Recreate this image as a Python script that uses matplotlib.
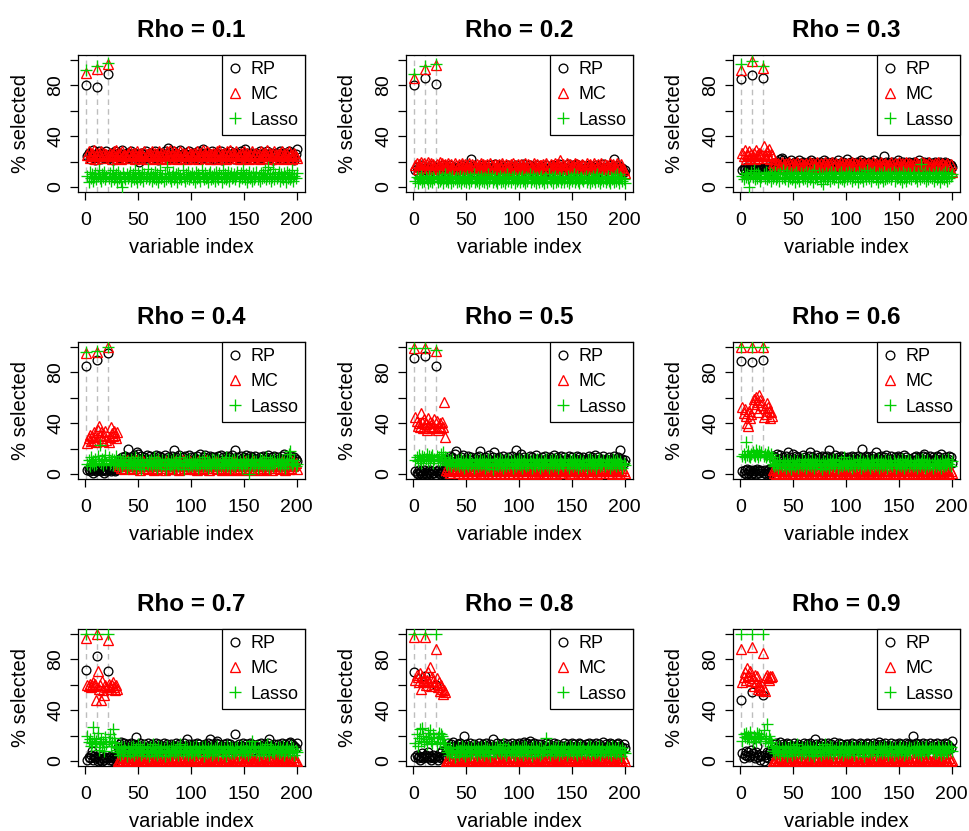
import numpy as np
import matplotlib
matplotlib.use("Agg")
import matplotlib.pyplot as plt


def vals(s):
    return np.array(s.split(), dtype=float)


rho_values = [0.1, 0.2, 0.3, 0.4, 0.5, 0.6, 0.7, 0.8, 0.9]
true_vars = [1, 11, 21]

# % selected per variable (1..200), one block of three series per rho
rp_01 = vals("""
80 24 27 22 26 25 29 23 21 26 79 25 28 24 22 27 26 23 25 28
89 23 26 24 27 21 25 28 22 26 24 27 23 25 29 22 26 24 27 25
23 26 28 22 25 27 24 21 26 23 20 25 27 24 22 26 28 23 25 24
27 22 26 24 25 28 23 26 21 27 24 25 22 26 28 24 27 31 25 23
26 24 28 22 25 27 23 26 24 29 22 25 27 24 26 23 25 28 22 26
24 27 25 23 26 22 28 25 24 27 30 23 26 25 22 27 24 26 23 28
25 22 26 24 27 23 25 28 21 26 24 27 25 22 26 23 28 24 25 27
22 26 24 27 25 23 28 24 26 22 30 25 27 23 26 24 22 27 25 26
24 27 22 25 28 23 26 24 27 22 25 28 24 26 23 27 25 21 26 24
27 23 25 28 22 26 24 27 25 23 26 22 28 24 25 27 23 21 26 30
""")
mc_01 = vals("""
90 25 28 23 27 24 26 29 22 25 93 27 24 26 28 23 25 27 24 26
97 24 27 25 22 26 28 24 29 23 26 25 27 22 28 24 26 25 23 27
25 28 23 26 24 27 22 25 28 24 26 23 27 25 24 28 22 26 25 27
24 26 28 23 25 27 22 26 24 28 25 23 27 24 26 22 28 25 24 29
23 26 25 28 24 27 22 26 25 28 23 27 24 26 25 22 28 24 26 27
25 23 27 24 26 28 22 25 27 24 29 26 23 25 28 24 27 22 26 25
27 24 26 22 28 25 29 23 26 24 27 25 22 28 24 26 29 23 25 27
24 26 28 23 25 22 27 24 26 28 25 23 27 24 22 26 25 28 23 26
25 27 24 26 22 28 25 23 27 24 26 29 23 25 27 24 22 26 28 25
23 26 24 27 25 28 22 26 24 27 25 23 28 24 26 22 25 27 24 23
""")
lasso_01 = vals("""
92 9 4 12 7 10 5 8 11 6 95 9 13 7 5 10 8 12 6 9
98 7 11 5 9 13 6 8 10 4 12 7 9 5 0 11 8 6 10 7
9 12 5 8 10 6 13 7 4 11 9 6 8 12 5 10 7 9 14 6
8 11 5 9 7 12 6 10 4 8 13 7 9 5 11 6 16 8 10 7
5 9 12 6 8 10 4 11 7 9 6 13 8 5 10 7 12 6 9 8
11 6 9 4 12 7 10 8 5 13 9 6 11 7 8 4 10 12 6 9
7 10 5 12 8 6 11 9 4 13 7 10 6 8 12 5 9 11 7 8
10 6 9 12 5 8 11 7 13 9 6 10 4 8 12 7 9 5 11 6
8 12 6 9 5 11 7 10 8 13 6 9 16 7 11 5 8 14 6 10
7 9 12 5 10 8 6 11 9 4 12 7 10 6 8 13 5 9 7 11
""")

rp_02 = vals("""
80 13 16 12 15 14 17 13 12 15 86 14 16 13 12 15 14 17 13 15
81 14 13 16 12 15 14 17 13 15 16 12 14 13 17 15 12 16 14 13
15 13 16 14 12 17 15 13 16 14 12 15 17 13 22 14 16 12 15 13
16 14 12 15 17 13 16 14 12 15 13 17 14 16 12 15 18 13 14 16
13 15 17 12 14 16 13 15 12 17 14 13 16 15 12 14 17 13 15 14
16 12 15 18 13 14 16 12 15 17 13 14 16 12 15 13 17 14 16 12
15 13 16 14 12 17 13 15 16 12 14 17 13 15 16 12 14 18 13 15
14 16 12 15 13 18 14 16 12 15 17 13 14 18 12 16 15 13 14 17
12 15 14 16 13 17 12 15 14 16 13 15 17 12 14 16 13 15 12 18
14 16 13 15 12 17 14 13 16 22 15 12 14 17 13 16 14 15 12 13
""")
mc_02 = vals("""
86 17 19 14 18 16 20 15 17 19 93 16 18 20 15 17 19 14 18 16
96 18 15 17 20 16 19 14 17 18 15 16 19 17 14 18 16 15 19 17
14 16 18 15 17 19 14 16 18 15 17 14 19 16 15 18 17 14 16 18
15 17 14 19 16 18 15 17 13 18 16 15 19 17 14 16 18 15 17 14
18 16 15 19 17 14 16 18 15 17 13 18 16 19 15 17 14 16 18 15
16 18 14 17 15 19 16 14 18 17 15 16 14 19 17 15 18 16 14 17
17 15 18 16 14 19 17 15 16 18 14 17 15 19 16 18 14 17 21 16
15 18 16 14 19 17 15 18 16 14 17 15 19 16 18 14 17 15 16 18
17 14 16 19 15 17 18 14 16 15 19 17 14 16 18 15 17 19 14 16
18 15 17 14 16 19 15 17 18 14 16 15 19 17 14 16 18 15 13 11
""")
lasso_02 = vals("""
89 5 8 3 7 6 9 4 7 5 95 8 6 3 9 5 7 4 8 6
97 7 4 9 5 6 8 3 7 10 5 6 4 8 7 3 9 5 6 8
4 7 5 9 3 6 8 5 7 4 9 6 3 8 5 7 10 4 6 5
8 3 6 9 5 7 4 8 6 3 10 5 7 9 4 6 8 5 3 7
6 9 4 7 5 8 3 6 10 5 7 4 8 6 9 3 7 5 6 8
4 7 9 5 6 3 8 5 7 10 4 6 9 5 7 3 8 6 4 7
9 5 6 3 8 7 4 10 6 5 8 3 7 9 4 6 5 8 7 4
6 8 4 7 5 9 3 6 8 5 7 10 4 6 9 5 3 7 8 6
5 7 9 4 6 8 3 7 5 9 6 4 8 10 5 7 3 6 8 5
7 4 6 9 5 3 8 6 7 4 9 5 10 6 3 8 7 5 6 3
""")

rp_03 = vals("""
85 13 15 14 12 16 14 13 15 14 88 13 16 14 15 12 14 13 15 14
86 15 13 14 16 12 14 15 13 14 17 19 16 18 17 20 19 22 23 21
18 17 20 16 19 18 17 21 16 19 18 20 17 16 19 21 18 17 20 16
19 18 16 20 17 19 21 18 16 20 17 19 18 16 20 17 19 18 21 16
18 20 17 16 19 18 20 17 19 16 18 21 17 19 16 18 20 17 19 18
22 17 19 16 20 18 17 19 16 20 18 17 19 21 16 18 20 17 19 16
18 20 17 19 16 18 21 17 19 16 20 18 17 19 16 24 18 20 17 19
17 19 16 20 18 17 19 16 21 18 17 19 16 20 18 17 19 16 18 20
19 16 18 20 17 19 16 18 21 17 19 16 18 20 17 19 16 20 18 17
16 19 18 20 17 19 16 18 20 17 19 16 18 20 17 19 16 18 17 16
""")
mc_03 = vals("""
92 27 24 29 22 26 25 28 23 26 99 24 27 22 29 25 23 27 24 26
94 32 25 23 28 24 30 22 26 25 19 17 20 16 18 19 15 17 20 16
18 16 19 17 15 20 18 16 17 19 15 18 16 20 17 15 19 16 18 17
16 19 17 15 18 20 16 17 19 15 18 16 20 17 15 19 16 18 17 20
15 18 16 19 17 15 20 18 16 17 19 15 18 16 20 17 15 19 16 18
17 19 16 18 15 20 17 16 19 18 15 17 20 16 18 15 19 17 16 18
19 16 18 15 17 20 16 19 17 15 18 16 20 17 15 18 19 16 17 15
18 16 20 17 15 19 16 18 17 20 15 16 19 17 18 15 20 16 17 19
16 18 15 17 20 16 19 17 15 18 16 20 17 19 15 18 16 17 20 16
18 15 17 19 16 18 20 15 17 16 19 18 15 17 16 19 17 15 18 12
""")
lasso_03 = vals("""
97 9 6 11 8 10 7 0 9 12 99 8 13 6 10 7 11 9 5 8
95 10 7 12 6 9 8 11 5 10 7 9 12 6 8 10 5 11 7 13
8 6 10 12 5 9 7 11 6 8 10 4 12 7 9 5 11 8 6 10
7 12 5 9 11 6 8 10 4 13 7 9 6 11 8 5 10 2 9 7
11 6 8 10 5 12 7 9 6 11 8 4 10 7 12 6 9 5 8 11
6 9 12 7 10 5 8 11 6 9 4 12 7 10 8 5 11 9 6 13
9 7 11 5 10 8 12 6 9 4 11 7 10 8 5 12 6 9 7 10
8 11 6 9 12 5 10 7 8 11 6 9 4 12 7 10 5 8 11 7
10 6 9 12 7 8 5 11 9 6 18 8 10 7 12 5 9 6 11 8
7 10 5 9 12 6 8 11 4 9 7 10 6 12 8 5 11 7 9 10
""")

rp_04 = vals("""
85 3 4 2 5 3 1 4 3 2 90 4 3 5 2 3 4 1 3 2
95 3 4 2 5 3 4 2 3 4 9 12 10 8 13 11 9 14 12 20
10 13 11 9 12 15 10 13 17 16 11 9 14 12 10 13 11 15 9 12
14 10 12 9 13 11 15 10 12 14 9 13 11 10 15 12 9 13 11 10
12 14 9 19 11 13 10 12 15 9 11 13 10 14 12 9 11 15 10 13
11 9 13 12 10 14 11 9 16 12 10 13 15 11 9 12 10 14 11 13
10 13 11 9 12 14 10 15 11 13 9 12 10 14 11 13 9 12 15 10
12 19 10 13 11 9 14 12 10 13 11 15 9 12 10 14 11 13 9 12
14 10 12 9 13 11 10 14 12 9 13 11 15 10 12 9 13 11 14 10
11 13 10 12 9 14 11 16 12 10 13 11 9 12 14 10 11 13 12 10
""")
mc_04 = vals("""
95 24 28 31 26 30 27 33 29 25 96 35 38 30 33 28 26 31 34 27
100 25 29 37 32 30 34 31 28 33 8 6 9 5 10 7 4 8 11 6
9 5 7 10 4 8 6 11 5 9 7 3 8 6 10 5 7 9 4 8
6 10 5 8 3 9 7 4 11 6 8 5 9 7 3 10 6 8 4 7
9 5 8 6 10 4 7 9 3 8 6 11 5 7 9 4 8 6 10 5
7 9 4 8 6 3 10 5 7 9 4 8 6 11 5 7 3 9 6 8
5 8 6 10 4 7 9 5 3 8 6 10 7 4 9 5 8 6 3 7
10 6 8 4 7 5 9 3 8 6 10 4 7 9 5 8 6 3 10 7
4 8 6 9 5 7 3 10 6 8 4 7 9 5 8 6 3 9 7 5
8 6 9 4 7 10 5 8 3 6 9 7 4 8 5 10 6 7 9 4
""")
lasso_04 = vals("""
96 8 11 6 13 9 10 7 12 8 97 14 10 23 9 12 7 11 15 9
100 13 8 10 12 7 11 9 14 8 10 7 12 9 6 11 8 13 5 10
7 9 12 6 10 8 13 5 9 11 7 10 4 12 8 6 11 9 7 10
8 11 6 9 13 7 10 5 12 8 9 6 11 7 10 4 9 12 8 6
10 7 12 5 9 11 8 6 10 13 7 9 4 11 8 10 6 12 7 9
6 10 8 12 7 9 5 11 8 10 6 13 9 7 11 5 10 8 6 12
9 11 7 10 5 12 8 6 11 9 7 10 13 6 8 12 5 9 11 7
12 6 9 11 7 10 8 5 12 9 6 10 8 11 0 7 9 12 6 10
7 10 5 9 12 8 11 6 10 8 13 7 9 5 11 8 10 6 12 9
10 8 12 6 9 11 7 10 5 9 12 8 16 18 10 7 9 11 6 8
""")

rp_05 = vals("""
91 2 1 0 3 1 2 0 1 3 93 1 0 2 1 3 0 2 1 1
85 2 3 1 0 2 1 3 0 2 9 12 8 11 14 10 13 9 16 18
11 8 12 10 13 9 15 11 8 12 10 14 9 11 13 8 12 10 9 13
11 14 18 10 12 9 11 13 8 12 10 15 11 9 13 17 10 12 8 11
13 9 12 10 14 11 8 12 10 13 9 11 14 10 12 8 19 11 13 10
12 16 11 9 13 10 12 8 11 14 10 13 9 12 11 15 10 8 12 11
9 13 11 10 14 12 8 11 13 9 12 10 15 11 8 13 10 12 9 14
11 10 13 9 12 11 14 10 8 13 11 9 12 10 14 11 13 9 12 10
13 11 9 12 10 14 11 8 13 10 12 15 9 11 13 10 12 8 11 14
10 12 11 9 13 10 8 12 11 14 9 12 10 13 11 19 10 12 9 11
""")
mc_05 = vals("""
99 45 42 38 40 37 48 41 36 43 99 39 35 44 38 41 36 40 37 43
97 42 35 38 40 36 41 37 57 29 3 5 2 4 1 6 3 8 2 5
4 1 3 6 2 5 0 4 7 2 3 1 5 2 4 0 3 6 1 4
2 5 3 0 4 1 6 3 2 5 1 4 3 0 2 6 4 1 3 5
3 0 4 2 5 1 3 7 2 4 0 3 5 1 4 2 6 3 0 2
5 2 4 1 3 6 0 4 2 5 3 1 4 2 6 0 3 5 1 4
2 4 1 5 3 0 4 2 6 3 1 5 2 4 0 3 5 2 1 4
4 1 3 5 2 6 3 0 4 2 5 1 3 4 2 0 5 3 1 6
1 5 3 2 4 0 6 3 1 4 2 5 3 0 4 2 1 5 3 2
3 6 2 4 1 5 3 0 4 2 5 3 1 4 2 0 3 5 2 1
""")
lasso_05 = vals("""
99 11 13 10 15 12 9 14 11 13 99 12 16 10 14 11 13 15 9 12
98 14 11 13 10 16 12 17 11 13 9 7 11 8 10 6 12 9 7 10
8 11 6 9 12 7 10 5 9 11 8 6 10 12 7 9 5 11 8 10
6 9 12 7 10 8 11 5 9 7 12 6 10 8 4 11 9 7 10 6
9 12 7 10 5 8 11 6 9 12 7 10 8 5 11 9 6 10 8 12
7 10 5 9 11 8 6 12 7 10 9 5 11 8 6 10 12 7 9 5
11 8 6 10 9 12 7 5 10 8 11 6 9 12 7 10 5 8 11 9
8 6 10 12 7 9 5 11 8 10 6 12 9 7 10 5 8 11 6 9
10 7 9 5 11 8 12 6 10 9 7 11 5 8 10 12 6 9 7 11
6 9 11 8 10 5 9 7 12 8 10 6 11 9 7 10 8 5 9 7
""")

rp_06 = vals("""
89 2 1 3 0 4 1 2 3 0 88 1 3 2 0 4 2 1 3 2
90 1 3 0 2 1 4 2 1 3 14 10 13 11 16 9 12 15 10 13
11 9 14 12 17 10 13 11 9 16 12 10 14 11 13 9 12 10 15 11
13 10 12 9 14 17 11 13 10 12 9 15 11 13 10 12 14 9 11 13
10 14 12 19 11 13 9 12 10 15 11 13 9 12 14 10 11 13 9 12
11 13 10 12 9 14 11 13 10 12 14 9 11 13 20 10 12 9 14 11
13 10 12 11 14 9 12 17 10 13 11 9 14 12 10 13 11 15 9 12
10 12 14 11 9 13 12 10 14 11 13 9 12 10 15 11 13 9 12 10
12 11 9 13 10 14 12 11 13 9 12 10 14 16 11 13 9 12 10 14
11 13 10 12 9 14 11 13 12 16 10 12 9 13 11 10 12 14 13 9
""")
mc_06 = vals("""
100 53 48 51 46 40 38 50 44 47 100 55 59 52 61 57 49 62 58 54
100 45 52 47 56 53 50 44 49 46 3 1 4 0 2 5 1 3 0 2
4 1 3 0 2 6 1 3 0 2 4 1 3 5 0 2 1 4 2 0
3 1 5 2 0 4 1 3 2 0 5 1 3 2 4 0 1 3 6 2
0 3 1 4 2 0 3 5 1 2 4 0 3 1 2 5 0 3 1 4
2 0 4 1 3 2 5 0 1 3 2 4 0 1 3 2 0 4 1 3
1 4 2 0 3 1 5 2 0 3 1 4 2 0 3 1 2 5 0 3
3 0 2 4 1 3 0 2 5 1 3 0 2 4 1 3 2 0 4 1
2 4 1 3 0 2 5 1 3 0 4 2 1 3 0 2 4 1 3 0
1 3 2 0 4 1 3 2 0 5 1 3 0 2 4 1 3 0 2 1
""")
lasso_06 = vals("""
100 14 16 13 25 15 18 14 13 16 100 17 15 14 19 16 13 18 15 17
100 14 16 13 15 17 14 12 16 13 8 6 10 7 9 5 11 8 6 10
7 9 5 11 8 6 10 4 9 7 11 6 8 10 5 9 7 12 6 8
10 5 8 11 7 9 6 12 8 5 10 7 9 11 6 8 4 10 7 9
6 11 8 5 10 7 9 12 6 8 11 5 9 7 10 6 8 13 7 9
8 6 10 7 9 5 11 8 6 10 7 9 12 5 8 10 6 9 7 11
9 7 5 10 8 11 6 9 7 12 5 8 10 6 9 7 11 8 5 10
7 10 8 6 11 9 5 8 10 7 9 6 12 8 5 10 7 9 11 6
10 8 6 9 7 11 5 10 8 6 9 12 7 10 5 8 11 6 9 7
8 5 9 11 6 10 8 7 9 5 11 8 6 10 7 9 12 8 6 10
""")

rp_07 = vals("""
72 1 3 2 5 8 1 4 2 3 83 0 2 1 4 0 2 1 3 2
71 3 1 4 2 0 3 2 1 4 11 9 13 15 12 10 14 11 9 13
10 12 14 9 11 13 10 19 12 9 11 14 10 12 9 13 11 10 14 12
9 11 13 10 12 9 14 11 10 13 12 9 11 14 10 12 13 9 11 10
13 10 12 9 11 14 10 12 13 9 11 10 14 12 9 17 11 13 10 12
11 13 9 12 10 14 11 13 10 12 9 11 13 10 12 14 9 17 11 13
10 12 11 14 16 13 10 12 9 11 13 10 12 14 9 11 13 10 12 11
9 21 12 10 13 11 9 12 14 10 11 13 9 12 10 14 11 13 9 12
12 10 13 11 9 14 12 10 11 13 9 12 14 17 10 12 11 9 13 10
11 13 10 12 9 14 11 10 13 12 9 11 14 15 10 13 11 12 10 14
""")
mc_07 = vals("""
97 60 59 61 58 60 62 59 61 48 100 71 57 60 48 63 56 52 60 58
95 61 59 57 60 62 58 56 60 57 0 1 0 2 0 1 3 0 1 0
2 0 1 0 1 3 0 2 0 1 0 2 1 0 3 0 1 0 2 0
1 0 2 0 1 0 3 1 0 2 0 1 0 2 1 0 3 0 1 0
0 2 1 0 1 3 0 1 0 2 1 0 2 0 1 0 3 1 0 2
1 0 2 1 0 3 0 1 2 0 1 0 2 0 3 1 0 1 0 2
0 1 0 2 1 0 3 0 1 0 2 1 0 2 0 1 3 0 1 0
2 0 1 0 3 1 0 2 0 1 0 2 1 0 1 3 0 2 0 1
0 1 2 0 1 0 3 1 0 2 0 1 0 2 1 0 1 3 0 2
1 0 2 0 1 3 0 1 0 2 1 0 2 0 1 0 3 1 0 0
""")
lasso_07 = vals("""
100 20 15 17 12 14 27 18 13 16 100 22 9 14 17 11 15 8 19 13
100 16 21 12 15 25 18 14 11 9 7 10 5 12 8 6 11 9 4 10
8 6 11 7 12 5 9 10 6 13 8 11 5 9 7 12 6 10 8 4
11 7 9 13 6 10 8 5 12 7 9 11 6 10 4 8 12 7 9 5
10 8 12 6 9 7 11 5 10 13 8 6 9 12 7 10 5 8 11 6
7 11 5 9 12 8 6 10 7 11 9 4 12 8 6 10 7 9 11 5
9 6 10 8 12 5 9 11 7 6 10 8 4 12 9 7 11 6 10 8
6 10 8 11 5 9 12 7 10 8 6 11 9 5 12 7 10 16 8 11
11 7 9 5 12 8 10 6 9 11 7 13 8 5 10 12 7 9 6 10
8 11 6 10 7 9 12 5 8 10 11 7 9 6 12 8 10 5 9 7
""")

rp_08 = vals("""
70 3 5 2 4 1 3 6 2 4 67 5 3 7 2 4 1 3 5 2
60 4 1 3 6 2 8 3 5 4 8 10 14 12 9 13 11 15 10 12
9 13 11 14 10 12 8 20 11 13 10 9 12 14 11 8 13 10 12 9
11 14 10 12 9 13 11 10 14 12 9 11 13 10 17 12 9 11 14 10
12 10 13 9 11 14 10 12 9 13 11 10 14 12 9 11 13 10 12 14
10 12 9 13 15 11 10 14 12 16 13 9 11 14 10 12 9 13 11 10
13 11 10 12 9 14 11 13 10 12 9 11 14 10 12 13 9 11 10 12
9 12 14 10 11 13 9 12 10 14 11 13 9 12 10 11 14 13 9 12
12 10 13 11 9 14 12 10 13 11 9 12 14 10 11 13 9 12 10 15
11 13 9 12 10 14 11 13 9 12 10 11 13 14 10 12 9 11 13 10
""")
mc_08 = vals("""
98 64 68 66 62 69 57 67 63 65 98 60 64 70 62 74 59 66 63 61
88 65 58 62 55 60 57 53 56 54 0 1 0 2 0 1 0 3 1 0
1 0 2 0 1 0 3 1 0 2 0 1 0 2 1 0 3 0 1 0
0 2 1 0 1 3 0 2 0 1 0 2 1 0 1 0 3 1 0 2
2 0 1 0 3 1 0 2 0 1 0 2 0 1 3 0 1 0 2 0
1 0 3 1 0 2 0 1 0 2 1 0 3 0 1 0 2 1 0 1
0 2 0 1 0 3 1 0 2 0 1 0 1 2 0 3 0 1 0 2
1 0 2 0 1 0 3 1 0 2 0 1 3 0 1 0 2 0 1 0
0 1 0 2 1 0 3 0 1 0 2 1 0 1 0 3 0 2 1 0
2 0 1 0 3 1 0 2 0 1 0 2 1 0 3 0 1 0 2 0
""")
lasso_08 = vals("""
100 14 21 12 18 25 16 26 20 15 100 17 13 22 19 24 16 14 21 18
100 13 19 22 15 21 20 17 14 12 10 7 9 5 11 8 6 10 3 9
7 11 5 9 8 12 6 10 4 9 7 11 8 5 10 6 12 7 9 5
10 8 6 11 7 9 5 12 8 10 6 9 4 11 7 8 10 6 12 9
8 11 6 9 13 7 10 5 8 11 9 6 10 7 12 5 9 8 11 6
9 7 10 5 12 8 11 6 9 7 10 4 12 8 6 11 9 7 10 5
11 6 9 8 10 18 7 12 5 9 8 11 6 10 7 9 12 5 8 10
6 10 8 11 5 9 7 12 8 10 6 9 11 7 5 10 8 12 6 9
10 8 6 9 11 7 12 5 9 10 8 6 11 7 9 12 5 8 10 7
7 9 11 6 10 8 5 12 9 7 10 6 8 11 7 9 4 10 8 6
""")

rp_09 = vals("""
48 6 2 5 8 4 7 3 5 9 54 6 4 2 7 12 3 5 1 4
52 0 5 3 7 2 6 8 4 5 9 11 13 14 10 12 9 15 11 13
10 12 9 14 11 13 10 12 8 11 14 9 12 10 13 11 9 12 10 14
11 9 13 10 12 14 11 9 12 10 17 13 11 9 12 14 10 11 13 9
12 10 14 11 9 13 12 10 15 11 9 12 14 10 13 11 9 12 10 13
10 13 11 9 12 14 10 11 13 9 12 10 14 11 13 9 12 10 11 14
13 11 9 12 10 14 11 13 9 12 15 10 11 13 9 12 14 10 11 12
9 12 14 10 11 13 9 12 10 14 11 13 9 12 10 11 14 9 13 12
11 13 20 12 9 14 11 10 13 12 9 11 14 10 12 13 9 11 10 14
12 10 13 11 9 14 12 10 11 13 9 12 10 14 11 13 9 12 10 16
""")
mc_09 = vals("""
88 62 66 70 64 73 68 67 71 63 90 65 59 68 62 67 57 60 58 56
85 57 55 66 68 65 64 67 66 67 0 1 0 2 0 1 0 3 1 0
0 2 1 0 1 0 3 0 1 2 0 1 0 2 0 1 3 0 1 0
2 0 1 0 1 3 0 1 0 2 1 0 2 0 1 0 3 1 0 1
0 1 0 2 1 0 3 0 1 0 2 0 1 3 0 1 0 2 0 1
1 0 2 0 3 1 0 1 0 2 0 1 0 3 1 0 2 0 1 0
0 2 0 1 0 3 1 0 2 0 1 0 1 0 3 1 0 2 0 1
3 0 1 0 2 0 1 0 3 1 0 2 0 1 0 2 1 0 3 0
1 0 2 0 1 3 0 1 0 2 1 0 3 0 1 0 2 0 1 0
0 1 0 3 1 0 2 0 1 0 2 1 0 3 0 1 0 2 0 1
""")
lasso_09 = vals("""
100 16 21 19 22 18 20 17 23 19 100 15 20 18 16 22 19 21 17 20
100 24 16 18 29 14 20 17 15 12 8 10 6 11 9 7 12 5 10 8
6 11 9 4 10 7 12 8 5 11 9 6 10 13 7 9 5 11 8 6
10 7 12 9 5 11 8 6 10 4 9 12 7 10 8 5 11 9 6 13
8 10 6 9 12 7 11 5 9 8 10 6 12 7 9 11 5 8 10 7
11 6 9 7 10 12 8 5 11 9 6 10 8 12 7 9 4 11 8 10
7 9 11 6 10 8 12 5 9 7 11 8 10 6 9 12 7 10 8 5
9 12 7 10 5 11 8 9 6 10 12 7 9 11 5 8 10 6 9 11
6 10 8 11 7 9 12 6 10 8 5 11 9 7 10 12 8 6 9 10
10 8 11 6 9 7 12 10 8 5 11 9 6 10 8 7 12 9 11 8
""")

rp_all = [rp_01, rp_02, rp_03, rp_04, rp_05, rp_06, rp_07, rp_08, rp_09]
mc_all = [mc_01, mc_02, mc_03, mc_04, mc_05, mc_06, mc_07, mc_08, mc_09]
lasso_all = [lasso_01, lasso_02, lasso_03, lasso_04, lasso_05,
             lasso_06, lasso_07, lasso_08, lasso_09]

plt.rcParams["font.family"] = ["Liberation Sans", "DejaVu Sans"]

W, H = 970, 831
fig = plt.figure(figsize=(W / 100, H / 100), dpi=100)

col_left = [78, 406, 733]
row_top = [55, 342, 629]
box_w, box_h = 227, 137

GREEN = "#00CD00"

for k, rho in enumerate(rho_values):
    r, c = divmod(k, 3)
    left, top = col_left[c], row_top[r]
    ax = fig.add_axes([left / W, (H - top - box_h) / H, box_w / W, box_h / H])

    x = np.arange(1, 201)
    for tv in true_vars:
        ax.axvline(tv, color="#BEBEBE", lw=1.0, ls=(0, (4, 3)), zorder=1)

    ax.plot(x, rp_all[k], ls="none", marker="o", ms=6.3, mfc="none",
            mec="black", mew=0.95, label="RP", zorder=2)
    ax.plot(x, mc_all[k], ls="none", marker="^", ms=7.3, mfc="none",
            mec="red", mew=0.95, label="MC", zorder=3)
    ax.plot(x, lasso_all[k], ls="none", marker="+", ms=9, mec=GREEN,
            mew=0.95, label="Lasso", zorder=4)

    ax.set_xlim(1 - 0.04 * 199, 200 + 0.04 * 199)
    ax.set_ylim(-4, 104)
    ax.set_xticks([0, 50, 100, 150, 200])
    ax.set_yticks([0, 20, 40, 60, 80, 100])
    ax.set_yticklabels(["0", "", "40", "", "80", ""], rotation=90, va="center")
    ax.tick_params(direction="out", length=6, width=0.9, labelsize=14,
                   color="black")
    ax.tick_params(axis="x", pad=8.5)
    ax.tick_params(axis="y", pad=4)
    for sp in ax.spines.values():
        sp.set_linewidth(0.9)

    ax.set_title(f"Rho = {rho}", fontsize=17.5, fontweight="bold", pad=13)
    ax.set_xlabel("variable index", fontsize=14.5, va="baseline")
    ax.set_ylabel("% selected", fontsize=14.5, va="center")
    ax.xaxis.set_label_coords(0.5, -61 / box_h)
    ax.yaxis.set_label_coords(-58 / box_w, 0.5)

    leg = ax.legend(loc="upper right", fontsize=13, frameon=True,
                    fancybox=False, framealpha=1, borderaxespad=0,
                    handlelength=0.75, handletextpad=0.5, labelspacing=0.45,
                    borderpad=0.35)
    leg.get_frame().set_edgecolor("black")
    leg.get_frame().set_linewidth(0.9)

fig.savefig("out.png", dpi=100)
